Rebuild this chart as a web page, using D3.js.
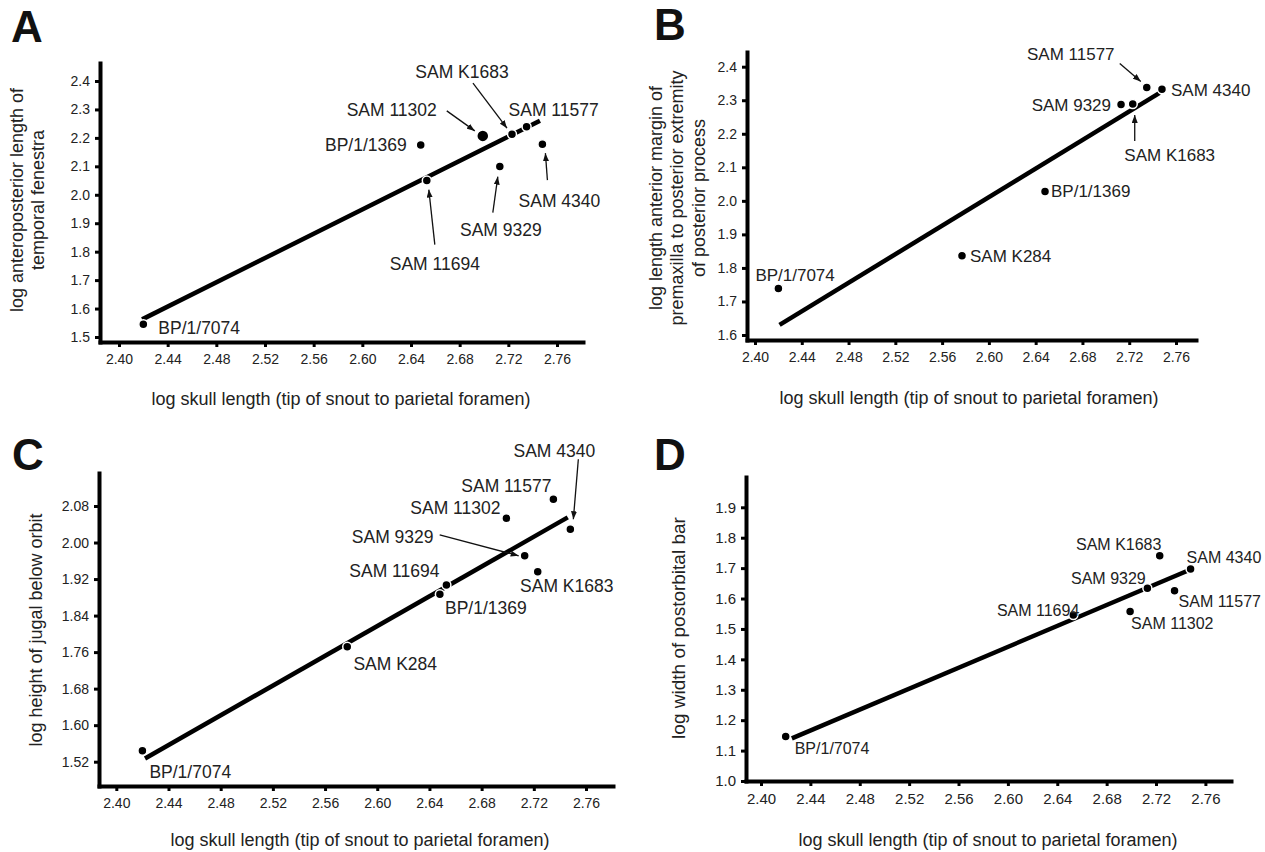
<!DOCTYPE html>
<html lang="en">
<head>
<meta charset="UTF-8">
<title>Skull allometry</title>
<style>
  body { margin: 0; background: #fff; }
  svg { display: block; font-family: "Liberation Sans", Arial, sans-serif; }
  .axis path, .axis line { stroke: #000; }
  .axis path { stroke-width: 4; stroke-linecap: square; }
  .axis line { stroke-width: 3; }
  .axis text { font-size: 14px; fill: #222; font-family: "Liberation Sans", Arial, sans-serif; }
  .title { font-size: 18px; fill: #222; }
  .letter { font-size: 44px; font-weight: bold; fill: #111; }
  .lab { fill: #222; }
  .fit { fill: none; stroke: #000; stroke-width: 4.5; }
  .arrow { stroke: #111; stroke-width: 1.3; }
  .dot { fill: #000; stroke: #fff; stroke-width: 1.5; }
  .narrow .axis text, .narrow .lab { font-family: "Liberation Sans Narrow", "Liberation Sans", Arial, sans-serif; }
</style>
</head>
<body>
<svg width="1265" height="852"></svg>
<script src="https://cdn.jsdelivr.net/npm/d3@7"></script>
<script>
  const specimens = ["BP/1/7074", "SAM K284", "BP/1/1369", "SAM 11694", "SAM 11302",
                     "SAM 9329", "SAM K1683", "SAM 11577", "SAM 4340"];
  const logSkull = [2.420, 2.577, 2.648, 2.653, 2.699, 2.713, 2.723, 2.735, 2.748];

  const logTemporal   = [1.545, null, 2.175, 2.050, 2.207, 2.099, 2.213, 2.239, 2.178];
  const logPremaxilla = [1.739, 1.836, 2.028, null, null, 2.287, 2.289, 2.338, 2.333];
  const logJugal      = [1.544, 1.772, 1.887, 1.907, 2.053, 1.971, 1.936, 2.095, 2.029];
  const logPostorbital = [1.146, null, null, 1.546, 1.557, 1.634, 1.741, 1.626, 1.697];

  // regression line end points [skull, measure]
  const fitA = [[2.419, 1.562], [2.746, 2.260]];
  const fitB = [[2.421, 1.630], [2.746, 2.322]];
  const fitC = [[2.422, 1.527], [2.746, 2.055]];
  const fitD = [[2.425, 1.140], [2.747, 1.694]];

  // tick labels
  const xTicks = [2.40, 2.44, 2.48, 2.52, 2.56, 2.60, 2.64, 2.68, 2.72, 2.76];
  const yTicksA = [1.5, 1.6, 1.7, 1.8, 1.9, 2.0, 2.1, 2.2, 2.3, 2.4];
  const yTicksB = [1.6, 1.7, 1.8, 1.9, 2.0, 2.1, 2.2, 2.3, 2.4];
  const yTicksC = [1.52, 1.60, 1.68, 1.76, 1.84, 1.92, 2.00, 2.08];
  const yTicksD = [1.0, 1.1, 1.2, 1.3, 1.4, 1.5, 1.6, 1.7, 1.8, 1.9];

  const xTitle = "log skull length (tip of snout to parietal foramen)";

  const svg = d3.select("svg");

  const defs = svg.append("defs");
  defs.append("marker")
    .attr("id", "head")
    .attr("viewBox", "0 0 8 6")
    .attr("markerWidth", 8).attr("markerHeight", 6)
    .attr("refX", 8).attr("refY", 3)
    .attr("markerUnits", "userSpaceOnUse")
    .attr("orient", "auto")
    .append("path").attr("d", "M0,0L8,3L0,6Z").attr("fill", "#111");

  function drawPanel(p) {
    const g = svg.append("g").attr("class", p.cls || "");

    const x = d3.scaleLinear().domain(p.xAnchor).range(p.xAnchorPx);
    x.domain([x.invert(p.xExt[0]), x.invert(p.xExt[1])]).range(p.xExt);
    const y = d3.scaleLinear().domain(p.yAnchor).range(p.yAnchorPx);
    y.domain([y.invert(p.yExt[0]), y.invert(p.yExt[1])]).range(p.yExt);

    g.append("g")
      .attr("class", "axis")
      .attr("transform", "translate(0," + p.yExt[0] + ")")
      .call(d3.axisBottom(x).tickValues(xTicks).tickFormat(d3.format(".2f"))
        .tickSize(5).tickSizeOuter(0).tickPadding(7));

    g.append("g")
      .attr("class", "axis")
      .attr("transform", "translate(" + p.xExt[0] + ",0)")
      .call(d3.axisLeft(y).tickValues(p.yTicks).tickFormat(d3.format(p.yFmt))
        .tickSize(5).tickSizeOuter(0).tickPadding(5));

    g.selectAll(".axis text").style("font-size", p.tickSize + "px");

    g.append("path")
      .attr("class", "fit")
      .attr("d", d3.line().x(d => x(d[0])).y(d => y(d[1]))(p.fit));

    const pts = specimens.map((n, i) => ({name: n, sx: logSkull[i], v: p.values[i]}))
      .filter(d => d.v != null);

    pts.forEach(d => {
      const lb = p.labels[d.name];
      if (!lb || !lb.arr) return;
      const cx = x(d.sx), cy = y(d.v);
      g.append("line")
        .attr("class", "arrow")
        .attr("x1", cx + lb.arr[0]).attr("y1", cy + lb.arr[1])
        .attr("x2", cx + lb.arr[2]).attr("y2", cy + lb.arr[3])
        .attr("marker-end", "url(#head)");
    });

    g.selectAll(".dot")
      .data(pts)
      .enter()
      .append("circle")
      .attr("class", "dot")
      .attr("cx", d => x(d.sx))
      .attr("cy", d => y(d.v))
      .attr("r", d => p.labels[d.name].r || 4.5);

    g.selectAll(".lab")
      .data(pts)
      .enter()
      .append("text")
      .attr("class", "lab")
      .attr("x", d => x(d.sx) + p.labels[d.name].dx)
      .attr("y", d => y(d.v) + p.labels[d.name].dy)
      .attr("dy", "0.35em")
      .attr("text-anchor", d => p.labels[d.name].a)
      .style("font-size", p.labelSize + "px")
      .text(d => d.name);

    g.append("text")
      .attr("class", "title")
      .attr("x", p.xTitlePos[0]).attr("y", p.xTitlePos[1])
      .attr("dy", "0.35em")
      .attr("text-anchor", "middle")
      .text(xTitle);

    const yt = g.append("text")
      .attr("class", "title")
      .attr("transform", "translate(" + p.yTitlePos[0] + "," + p.yTitlePos[1] + ") rotate(-90)")
      .attr("text-anchor", "middle")
      .style("font-size", (p.yTitleSize || 18) + "px");
    p.yTitle.forEach((line, i) => {
      yt.append("tspan")
        .attr("x", 0)
        .attr("y", (i - (p.yTitle.length - 1) / 2) * 21.5)
        .attr("dy", "0.35em")
        .text(line);
    });

    g.append("text")
      .attr("class", "letter")
      .attr("x", p.letterPos[0]).attr("y", p.letterPos[1])
      .text(p.letter);
  }

  drawPanel({
    letter: "A", letterPos: [11, 42],
    xAnchor: [2.40, 2.76], xAnchorPx: [119, 557], xExt: [100, 583],
    yAnchor: [1.5, 2.4], yAnchorPx: [337, 81], yExt: [342, 63],
    yTicks: yTicksA, yFmt: ".1f", tickSize: 14,
    values: logTemporal, fit: fitA, labelSize: 17.5,
    xTitlePos: [341, 399], yTitlePos: [27, 200],
    yTitle: ["log anteroposterior length of", "temporal fenestra"],
    labels: {
      "BP/1/7074": {dx: 15, dy: 3.5, a: "start"},
      "BP/1/1369": {dx: -14, dy: 0, a: "end"},
      "SAM 11302": {dx: -46, dy: -26, a: "end", arr: [-36, -25, -8, -5], r: 6},
      "SAM K1683": {dx: -50, dy: -62, a: "middle", arr: [-39, -51, -5, -6]},
      "SAM 11577": {dx: -18, dy: -17, a: "start"},
      "SAM 4340": {dx: 17, dy: 57, a: "middle", arr: [5, 36, 3, 9]},
      "SAM 9329": {dx: 1, dy: 63, a: "middle", arr: [-7, 46, -2, 10]},
      "SAM 11694": {dx: 8, dy: 83, a: "middle", arr: [8, 64, 2, 9]}
    }
  });

  drawPanel({
    letter: "B", letterPos: [654, 40],
    xAnchor: [2.40, 2.76], xAnchorPx: [755, 1176], xExt: [747, 1196],
    yAnchor: [1.6, 2.4], yAnchorPx: [335, 66.7], yExt: [340, 52],
    yTicks: yTicksB, yFmt: ".1f", tickSize: 14,
    values: logPremaxilla, fit: fitB, labelSize: 17,
    xTitlePos: [969, 398], yTitlePos: [677, 198],
    yTitle: ["log length anterior margin of", "premaxilla to posterior extremity", "of posterior process"],
    labels: {
      "SAM 11577": {dx: -76, dy: -33, a: "middle", arr: [-27, -24, -6, -6]},
      "SAM 4340": {dx: 9, dy: 1, a: "start"},
      "SAM 9329": {dx: -10, dy: 0, a: "end"},
      "SAM K1683": {dx: 37, dy: 51, a: "middle", arr: [2, 37, 2, 11]},
      "BP/1/1369": {dx: 6, dy: 0, a: "start"},
      "SAM K284": {dx: 8, dy: 0, a: "start"},
      "BP/1/7074": {dx: -23, dy: -13, a: "start"}
    }
  });

  drawPanel({
    letter: "C", letterPos: [12, 470],
    xAnchor: [2.44, 2.76], xAnchorPx: [168.5, 586], xExt: [99, 613],
    yAnchor: [1.52, 2.08], yAnchorPx: [761.7, 506], yExt: [786, 473],
    yTicks: yTicksC, yFmt: ".2f", tickSize: 14,
    values: logJugal, fit: fitC, labelSize: 17.5,
    xTitlePos: [360, 840], yTitlePos: [36, 630],
    yTitle: ["log height of jugal below orbit"],
    labels: {
      "SAM 4340": {dx: -16, dy: -78, a: "middle", arr: [8, -70, 3, -10]},
      "SAM 11577": {dx: -47, dy: -13, a: "middle"},
      "SAM 11302": {dx: -51, dy: -10, a: "middle"},
      "SAM 9329": {dx: -132, dy: -19, a: "middle", arr: [-85, -21, -6, 0]},
      "SAM 11694": {dx: -52, dy: -14, a: "middle"},
      "SAM K1683": {dx: 29, dy: 14, a: "middle"},
      "BP/1/1369": {dx: 46, dy: 14, a: "middle"},
      "SAM K284": {dx: 48, dy: 17, a: "middle"},
      "BP/1/7074": {dx: 7, dy: 21, a: "start"}
    }
  });

  drawPanel({
    letter: "D", letterPos: [654, 470], cls: "narrow",
    xAnchor: [2.40, 2.76], xAnchorPx: [761, 1205.4], xExt: [746, 1231],
    yAnchor: [1.0, 1.9], yAnchorPx: [781, 507.3], yExt: [781, 477],
    yTicks: yTicksD, yFmt: ".1f", tickSize: 15,
    values: logPostorbital, fit: fitD, labelSize: 16,
    xTitlePos: [988, 840], yTitlePos: [678, 628], yTitleSize: 19,
    yTitle: ["log width of postorbital bar"],
    labels: {
      "SAM K1683": {dx: -41, dy: -11, a: "middle"},
      "SAM 4340": {dx: -4, dy: -12, a: "start"},
      "SAM 9329": {dx: -39, dy: -10, a: "middle"},
      "SAM 11577": {dx: 4, dy: 11, a: "start"},
      "SAM 11302": {dx: 1, dy: 12, a: "start"},
      "SAM 11694": {dx: 6, dy: -5, a: "end"},
      "BP/1/7074": {dx: 9, dy: 12, a: "start"}
    }
  });
</script>
</body>
</html>
